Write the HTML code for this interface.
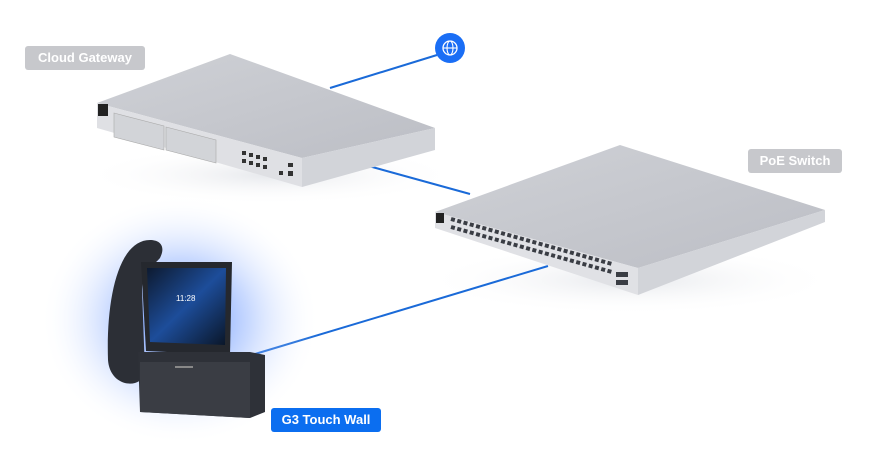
<!DOCTYPE html>
<html><head><style>
html,body{margin:0;padding:0;background:#fff;}
body{width:882px;height:470px;overflow:hidden;position:relative;font-family:"Liberation Sans",sans-serif;}
.lbl{position:absolute;color:#fff;font-size:13px;font-weight:bold;border-radius:3px;text-align:center;line-height:24px;}
</style></head><body>
<svg width="882" height="470" style="position:absolute;left:0;top:0">
<defs>
<radialGradient id="glow" cx="0.5" cy="0.5" r="0.5">
<stop offset="0" stop-color="#2f6cff" stop-opacity="0.85"/>
<stop offset="0.5" stop-color="#7aa3ff" stop-opacity="0.4"/>
<stop offset="1" stop-color="#ffffff" stop-opacity="0"/>
</radialGradient>
<linearGradient id="scr" x1="0" y1="0" x2="1" y2="1">
<stop offset="0" stop-color="#0d1a30"/><stop offset="0.5" stop-color="#1d4d9a"/><stop offset="1" stop-color="#0a1628"/>
</linearGradient>
<linearGradient id="top" x1="0" y1="0" x2="1" y2="1">
<stop offset="0" stop-color="#cfd1d6"/><stop offset="1" stop-color="#bcbec5"/>
</linearGradient>
<radialGradient id="sh" cx="0.5" cy="0.5" r="0.5"><stop offset="0" stop-color="#e6e8ec"/><stop offset="1" stop-color="#fff" stop-opacity="0"/></radialGradient>
</defs>
<ellipse cx="270" cy="175" rx="190" ry="30" fill="url(#sh)"/>
<ellipse cx="630" cy="280" rx="210" ry="35" fill="url(#sh)"/>
<line x1="437" y1="55" x2="330" y2="88" stroke="#1a6ad8" stroke-width="2"/>
<line x1="365" y1="165" x2="470" y2="194" stroke="#1a6ad8" stroke-width="2"/>
<line x1="548" y1="266" x2="255" y2="354" stroke="#1a6ad8" stroke-width="2"/>
<circle cx="450" cy="48" r="15" fill="#1a6ef5"/>
<circle cx="450" cy="48" r="7" fill="none" stroke="#fff" stroke-width="1.3"/>
<ellipse cx="450" cy="48" rx="3" ry="7" fill="none" stroke="#fff" stroke-width="1.1"/>
<line x1="443" y1="48" x2="457" y2="48" stroke="#fff" stroke-width="1.1"/>
<polygon points="97,103 230,54 435,128 302,158" fill="url(#top)"/>
<polygon points="97,103 302,158 302,187 97,128" fill="#dfe0e4"/>
<polygon points="302,158 435,128 435,150 302,187" fill="#d2d4d9"/>
<polygon points="114,113 164,126 164,150 114,137" fill="#d2d4d8" stroke="#aaa" stroke-width="0.6"/>
<polygon points="166,127 216,140 216,163 166,150" fill="#d2d4d8" stroke="#aaa" stroke-width="0.6"/>
<rect x="98" y="104" width="10" height="12" fill="#222"/>
<g fill="#333">
<rect x="242" y="151" width="4" height="4"/><rect x="249" y="153" width="4" height="4"/><rect x="256" y="155" width="4" height="4"/><rect x="263" y="157" width="4" height="4"/>
<rect x="242" y="159" width="4" height="4"/><rect x="249" y="161" width="4" height="4"/><rect x="256" y="163" width="4" height="4"/><rect x="263" y="165" width="4" height="4"/>
<rect x="288" y="163" width="5" height="4"/><rect x="288" y="171" width="5" height="5"/><rect x="279" y="171" width="4" height="4"/>
</g>
<polygon points="435,212 620,145 825,210 638,268" fill="url(#top)"/>
<polygon points="435,212 638,268 638,295 435,228" fill="#e0e1e5"/>
<polygon points="638,268 825,210 825,222 638,295" fill="#d2d4d9"/>
<rect x="436" y="213" width="8" height="10" fill="#222"/>
<g stroke="#3a3d44" stroke-width="4" stroke-dasharray="4,2.5">
<line x1="451" y1="219" x2="612" y2="264"/>
<line x1="451" y1="227" x2="612" y2="272"/>
</g>
<g fill="#3a3d44"><rect x="616" y="272" width="12" height="5"/><rect x="616" y="280" width="12" height="5"/></g>
<ellipse cx="180" cy="320" rx="140" ry="125" fill="url(#glow)"/>
<path d="M150,240 C118,240 106,300 108,360 C110,388 142,390 145,372 L142,290 C142,272 155,264 160,258 C166,246 160,240 150,240 Z" fill="#2c2f36"/>
<polygon points="141,262 232,262 230,355 146,351" fill="#25282e"/>
<polygon points="147,268 226,268 225,345 150,342" fill="url(#scr)"/>
<text x="176" y="301" fill="#fff" font-size="8" font-family="Liberation Sans,sans-serif">11:28</text>
<polygon points="138,352 250,352 265,355 265,412 250,418 140,412" fill="#2e3138"/>
<polygon points="140,362 250,362 250,418 140,412" fill="#3a3d44"/>
<rect x="175" y="366" width="18" height="2" fill="#888"/>
</svg>
<div class="lbl" style="left:25px;top:46px;width:120px;background:#c7c8cc;">Cloud Gateway</div>
<div class="lbl" style="left:748px;top:149px;width:94px;background:#c7c8cc;">PoE Switch</div>
<div class="lbl" style="left:271px;top:408px;width:110px;background:#0b6ef0;">G3 Touch Wall</div>
</body></html>
